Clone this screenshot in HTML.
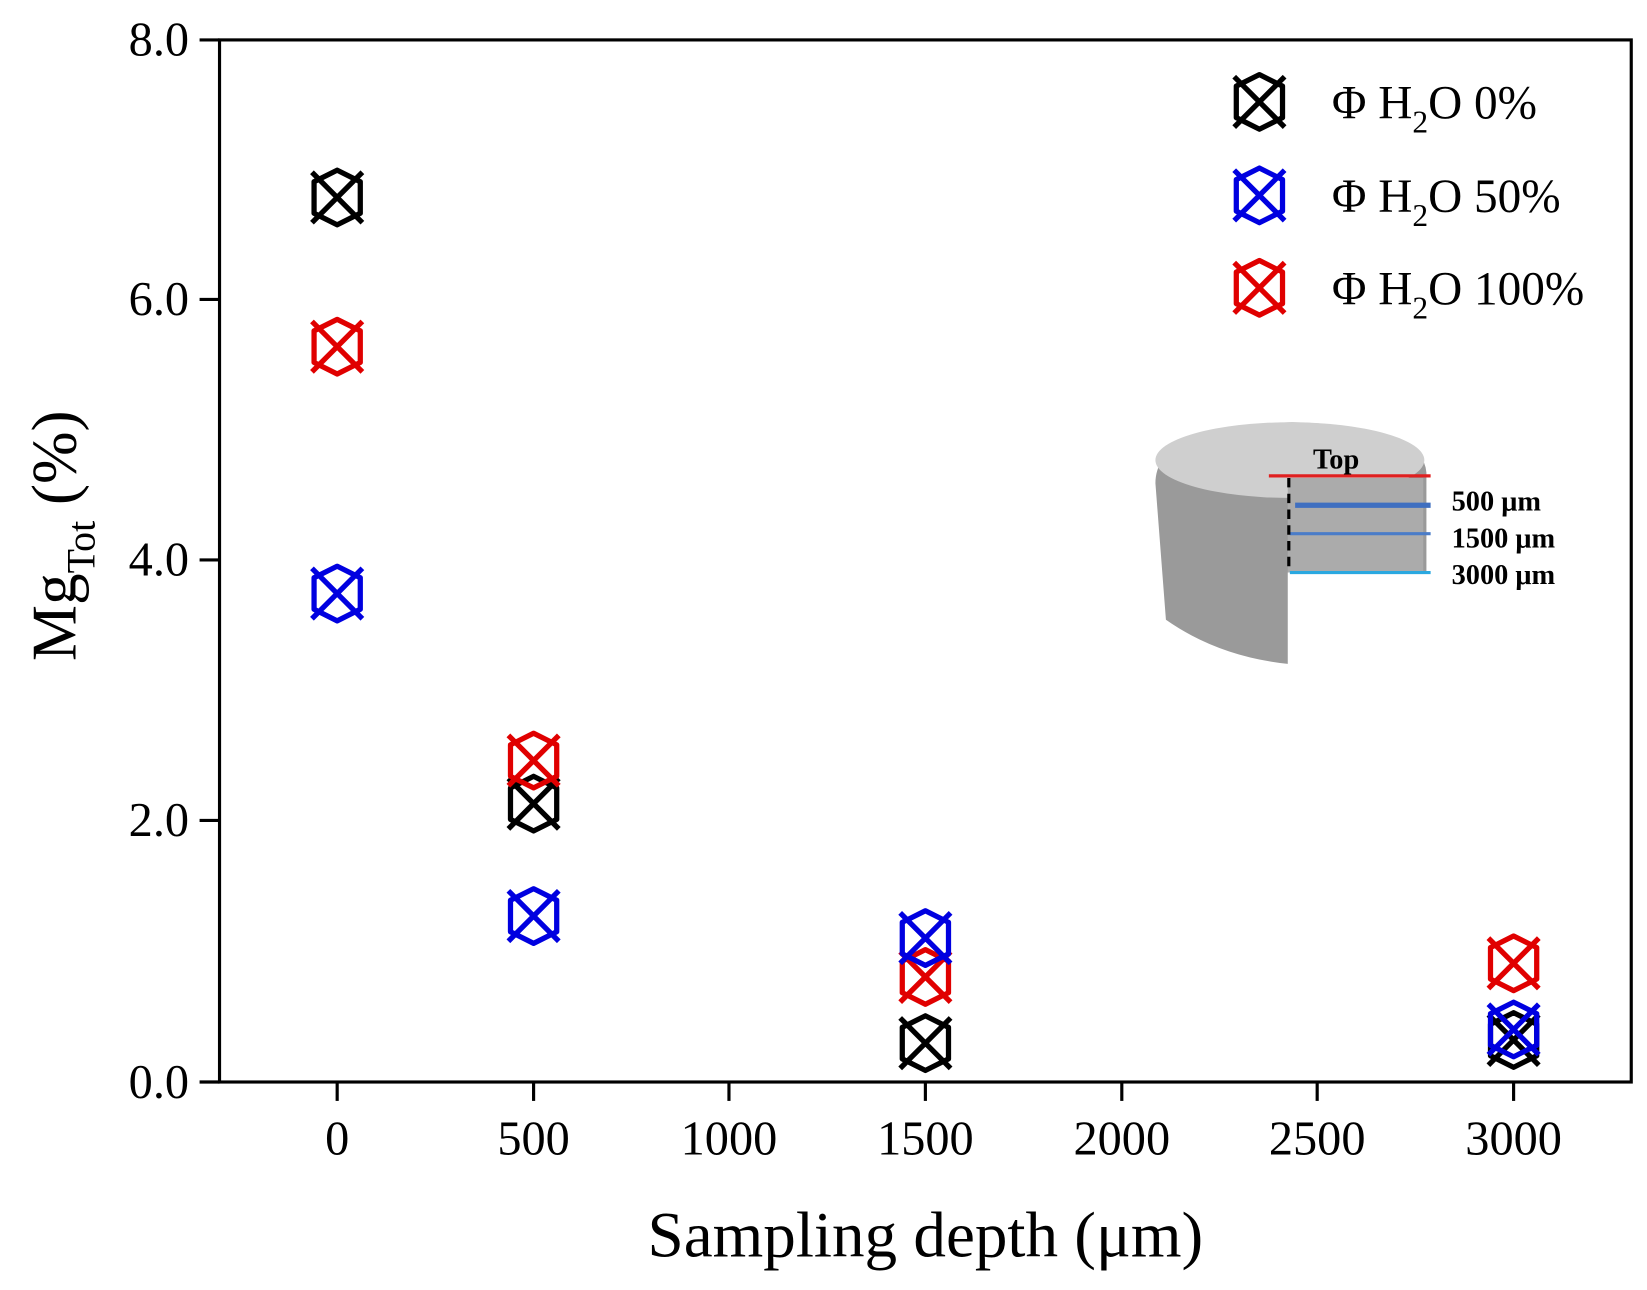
<!DOCTYPE html>
<html><head><meta charset="utf-8"><style>html,body{margin:0;padding:0;background:#fff}svg{display:block}</style></head>
<body>
<svg width="1647" height="1290" viewBox="0 0 1568 1228" preserveAspectRatio="none" xmlns="http://www.w3.org/2000/svg" font-family="'Liberation Serif', serif">
<defs>
<g id="m" fill="none" stroke-width="5" stroke-linejoin="round">
<polygon points="0,-26 22,-15 22,15 0,26 -22,15 -22,-15"/>
<line x1="-24" y1="-24" x2="24" y2="24"/><line x1="24" y1="-24" x2="-24" y2="24"/>
</g>
</defs>
<rect x="209" y="38" width="1344" height="992" fill="none" stroke="#000" stroke-width="3"/>
<g stroke="#000" stroke-width="3">
<line x1="190" y1="38" x2="209" y2="38"/><line x1="190" y1="285" x2="209" y2="285"/><line x1="190" y1="533" x2="209" y2="533"/><line x1="190" y1="781" x2="209" y2="781"/><line x1="190" y1="1030" x2="209" y2="1030"/>
<line x1="321" y1="1030" x2="321" y2="1048"/><line x1="508" y1="1030" x2="508" y2="1048"/><line x1="694" y1="1030" x2="694" y2="1048"/><line x1="881" y1="1030" x2="881" y2="1048"/><line x1="1068" y1="1030" x2="1068" y2="1048"/><line x1="1254" y1="1030" x2="1254" y2="1048"/><line x1="1441" y1="1030" x2="1441" y2="1048"/>
</g>
<g font-size="46" text-anchor="end">
<text x="180" y="53">8.0</text><text x="180" y="300">6.0</text><text x="180" y="548">4.0</text><text x="180" y="796">2.0</text><text x="180" y="1045">0.0</text>
</g>
<g font-size="46" text-anchor="middle">
<text x="321" y="1099">0</text><text x="508" y="1099">500</text><text x="694" y="1099">1000</text><text x="881" y="1099">1500</text><text x="1068" y="1099">2000</text><text x="1254" y="1099">2500</text><text x="1441" y="1099">3000</text>
</g>
<text x="881" y="1196" font-size="62" text-anchor="middle">Sampling depth (μm)</text>
<g transform="translate(72,510) rotate(-90)"><text x="0" y="0" font-size="60" text-anchor="middle">Mg<tspan font-size="38" dy="18">Tot</tspan><tspan dy="-18"> (%)</tspan></text></g>
<g stroke="#000"><use href="#m" x="321" y="188"/><use href="#m" x="508" y="765"/><use href="#m" x="881" y="993"/><use href="#m" x="1441" y="990"/></g>
<g stroke="#e00000"><use href="#m" x="321" y="330"/><use href="#m" x="508" y="724"/><use href="#m" x="881" y="930"/><use href="#m" x="1441" y="917"/></g>
<g stroke="#0000e0"><use href="#m" x="321" y="565"/><use href="#m" x="508" y="872"/><use href="#m" x="881" y="893"/><use href="#m" x="1441" y="980"/></g>
<use href="#m" x="1199" y="97" stroke="#000"/><use href="#m" x="1199" y="186" stroke="#0000e0"/><use href="#m" x="1199" y="274" stroke="#e00000"/>
<g font-size="45">
<text x="1268" y="113">Φ H<tspan font-size="30" dy="13">2</tspan><tspan dy="-13">O 0%</tspan></text>
<text x="1268" y="202">Φ H<tspan font-size="30" dy="13">2</tspan><tspan dy="-13">O 50%</tspan></text>
<text x="1268" y="290">Φ H<tspan font-size="30" dy="13">2</tspan><tspan dy="-13">O 100%</tspan></text>
</g>
<path d="M1100,460 Q1100,405 1230,402 Q1355,405 1358,450 L1358,545 L1226,545 L1226,632 Q1160,625 1110,590 Z" fill="#9a9a9a"/>
<ellipse cx="1228" cy="438" rx="128" ry="36" fill="#cfcfcf"/>
<path d="M1226,455 L1355,455 L1355,545 L1226,545 Z" fill="#ababab"/>
<line x1="1208" y1="453" x2="1362" y2="453" stroke="#e02020" stroke-width="3"/>
<line x1="1233" y1="481" x2="1362" y2="481" stroke="#3f6fc0" stroke-width="5"/>
<line x1="1228" y1="508" x2="1362" y2="508" stroke="#4a7cc8" stroke-width="3"/>
<line x1="1228" y1="545" x2="1362" y2="545" stroke="#2aa8e0" stroke-width="3"/>
<line x1="1227" y1="455" x2="1227" y2="545" stroke="#000" stroke-width="3" stroke-dasharray="9,6"/>
<g font-size="27" font-weight="bold">
<text x="1250" y="446">Top</text><text x="1382" y="486">500 μm</text><text x="1382" y="521">1500 μm</text><text x="1382" y="556">3000 μm</text>
</g>
</svg>
</body></html>
